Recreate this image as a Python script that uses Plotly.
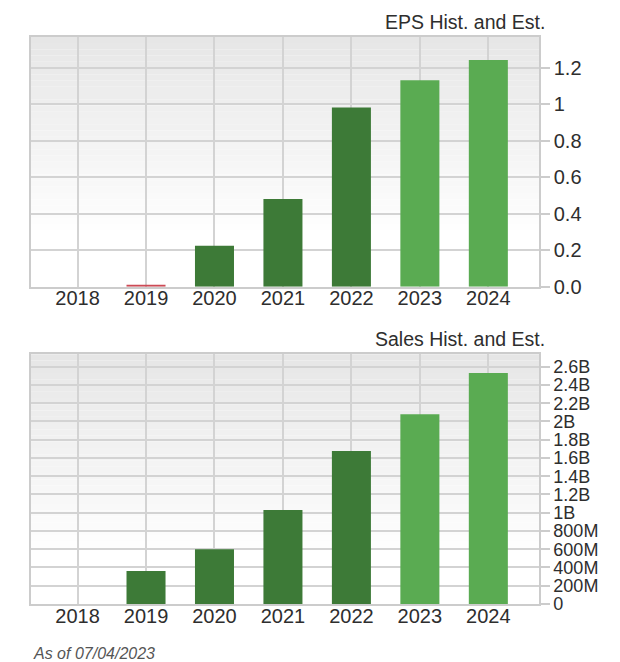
import plotly.graph_objects as go

years = ["2018", "2019", "2020", "2021", "2022", "2023", "2024"]
eps = [None, 0.008, 0.224, 0.481, 0.982, 1.132, 1.242]
eps_colors = ["#3d7a37", "#cc4a55", "#3d7a37", "#3d7a37", "#3d7a37", "#5aab52", "#5aab52"]
sales = [None, 0.362e9, 0.599e9, 1.03e9, 1.676e9, 2.08e9, 2.53e9]
sales_colors = ["#3d7a37", "#3d7a37", "#3d7a37", "#3d7a37", "#3d7a37", "#5aab52", "#5aab52"]

eps_tickvals = [0, 0.2, 0.4, 0.6, 0.8, 1.0, 1.2]
eps_ticktext = ["0.0", "0.2", "0.4", "0.6", "0.8", "1", "1.2"]
sales_tickvals = [i * 0.2e9 for i in range(14)]
sales_ticktext = ["0", "200M", "400M", "600M", "800M", "1B", "1.2B", "1.4B",
                  "1.6B", "1.8B", "2B", "2.2B", "2.4B", "2.6B"]

FONT = "Liberation Sans, Arial, Helvetica, sans-serif"
TXT = "#2e2e2e"
GRID = "#d3d3d3"

fig = go.Figure()
fig.add_trace(go.Bar(x=years, y=eps, marker=dict(color=eps_colors, line=dict(width=0)),
                     width=0.57, xaxis="x", yaxis="y", hoverinfo="x+y"))
fig.add_trace(go.Bar(x=years, y=sales, marker=dict(color=sales_colors, line=dict(width=0)),
                     width=0.57, xaxis="x2", yaxis="y2", hoverinfo="x+y"))

W, H = 620, 662
xdom = [31 / W, 539 / W]
y1dom = [1 - 286.7 / H, 1 - 36.7 / H]
y2dom = [1 - 604 / H, 1 - 354.3 / H]

xcommon = dict(domain=xdom, range=[-0.68, 6.74], showgrid=True, gridcolor=GRID, gridwidth=1.5,
               showline=True, linecolor="#cccccc", linewidth=1.5, mirror=True, ticks="",
               ticklabelstandoff=-7,
               tickfont=dict(family=FONT, size=20, color=TXT), automargin=False, fixedrange=True)
ycommon = dict(side="right", showgrid=True, gridcolor=GRID, gridwidth=1.5, showline=True,
               linecolor="#cccccc", linewidth=1.5, mirror=True, ticks="outside", ticklen=9,
               tickcolor="#cccccc", tickwidth=1.5, zeroline=False, automargin=False, fixedrange=True)

shapes = []
n = 40
for ax in ["", "2"]:
    for i in range(n):
        t = (i + 0.5) / n  # fraction from top
        g = int(round(230 + 25 * min(t / 0.8, 1.0)))
        shapes.append(dict(type="rect", xref=f"x{ax} domain", yref=f"y{ax} domain",
                           x0=0, x1=1, y0=1 - (i + 1) / n, y1=1 - i / n,
                           fillcolor=f"rgb({g},{g},{g})", line=dict(width=0), layer="below"))

fig.update_layout(
    width=W, height=H, margin=dict(l=0, r=0, t=0, b=0),
    paper_bgcolor="white", plot_bgcolor="rgba(0,0,0,0)", showlegend=False, bargap=0.43,
    xaxis=dict(**xcommon, anchor="y"),
    yaxis=dict(**ycommon, domain=y1dom, range=[0, 1.37], tickvals=eps_tickvals, ticktext=eps_ticktext,
               tickfont=dict(family=FONT, size=20, color=TXT), anchor="x"),
    xaxis2=dict(**xcommon, anchor="y2"),
    yaxis2=dict(**ycommon, domain=y2dom, range=[0, 2.736e9], tickvals=sales_tickvals,
                ticktext=sales_ticktext, tickfont=dict(family=FONT, size=18, color=TXT), anchor="x2"),
    shapes=shapes,
    annotations=[
        dict(text="EPS Hist. and Est.", xref="paper", yref="paper", x=546.7 / W, y=1 - 21.7 / H,
             xanchor="right", yanchor="middle", showarrow=False,
             font=dict(family=FONT, size=19.5, color=TXT)),
        dict(text="Sales Hist. and Est.", xref="paper", yref="paper", x=546.7 / W, y=1 - 338.5 / H,
             xanchor="right", yanchor="middle", showarrow=False,
             font=dict(family=FONT, size=19.5, color=TXT)),
        dict(text="<i>As of 07/04/2023</i>", xref="paper", yref="paper", x=31 / W, y=1 - 653 / H,
             xanchor="left", yanchor="middle", showarrow=False,
             font=dict(family=FONT, size=16, color="#555555")),
    ],
)

fig.write_html("out.html")
